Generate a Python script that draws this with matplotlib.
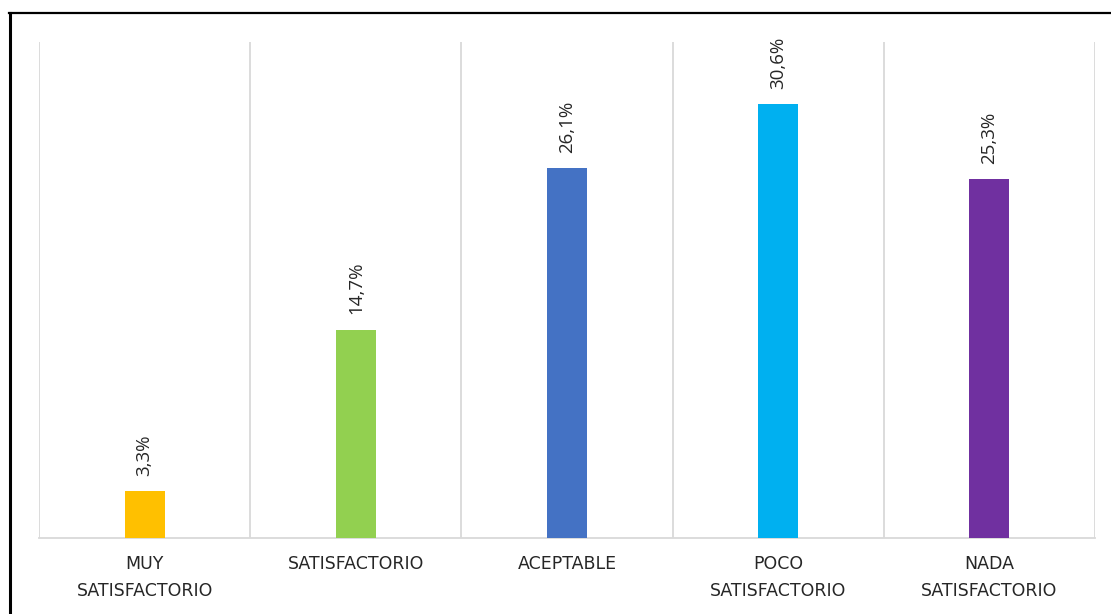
import matplotlib.pyplot as plt
from matplotlib.lines import Line2D

categorias = ['MUY\nSATISFACTORIO', 'SATISFACTORIO', 'ACEPTABLE',
              'POCO\nSATISFACTORIO', 'NADA\nSATISFACTORIO']
valores = [3.3, 14.7, 26.1, 30.6, 25.3]
etiquetas = ['3,3%', '14,7%', '26,1%', '30,6%', '25,3%']
colores = ['#FFC000', '#92D050', '#4472C4', '#00B0F0', '#7030A0']

plt.rcParams['font.family'] = ['Open Sans', 'DejaVu Sans']

fig = plt.figure(figsize=(11.11, 6.14), dpi=100)
ax = fig.add_axes([0.0351, 0.1238, 0.9505, 0.8078])

x = list(range(len(categorias)))
ax.bar(x, valores, width=0.19, color=colores, zorder=3)

# etiquetas de valor rotadas
for i in range(len(valores)):
    ax.annotate(etiquetas[i], (x[i], valores[i]), xytext=(0, 11),
                textcoords='offset points', rotation=90, ha='center',
                va='bottom', fontsize=13.5, color='#262626')

ax.set_xlim(-0.5, len(categorias) - 0.5)
ax.set_ylim(0, 35)

# lineas verticales entre categorias
for b in range(len(categorias) + 1):
    ax.axvline(b - 0.5, color='#D9D9D9', lw=1.3, zorder=1)

for s in ['top', 'right', 'left']:
    ax.spines[s].set_visible(False)
ax.spines['bottom'].set_color('#D9D9D9')
ax.spines['bottom'].set_linewidth(1.3)

ax.set_yticks([])
ax.set_xticks(x)
ax.set_xticklabels(categorias, fontsize=12.5, color='#262626', linespacing=1.65,
                   family=['DejaVu Sans'])
ax.tick_params(axis='x', length=0, pad=12.5)

# marco negro del grafico
fig.add_artist(Line2D([10 / 1111, 10 / 1111], [0, 1 - 13 / 614], color='black', lw=2.2))
fig.add_artist(Line2D([9 / 1111, 1], [1 - 13 / 614, 1 - 13 / 614], color='black', lw=1.6))

fig.savefig('out.png', dpi=100)
